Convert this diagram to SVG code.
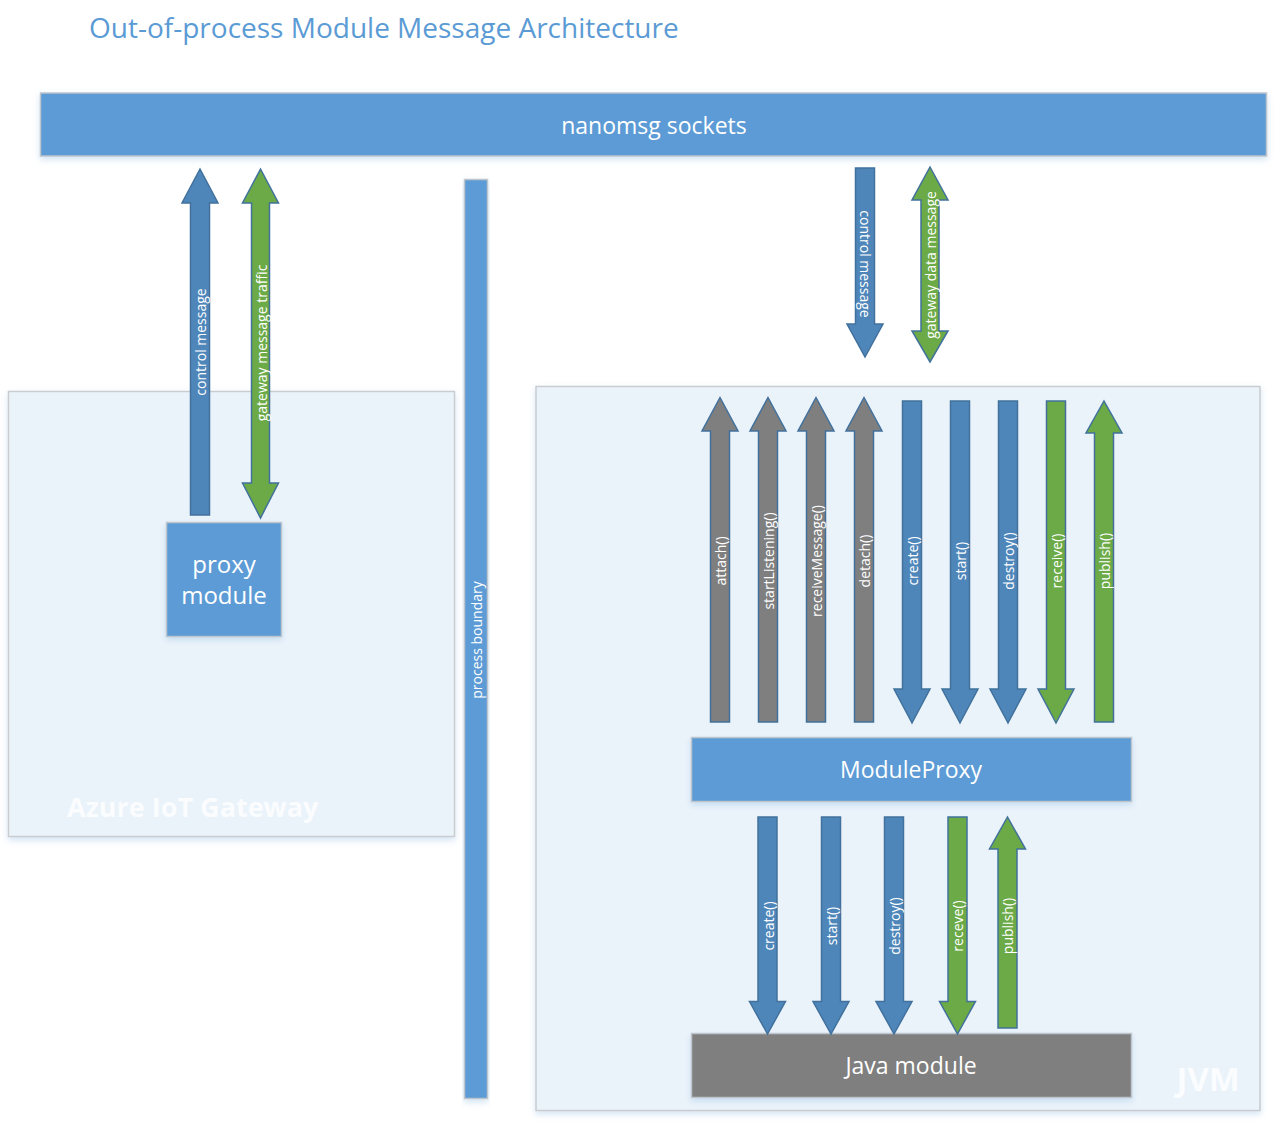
<svg xmlns="http://www.w3.org/2000/svg" width="1277" height="1126" viewBox="0 0 1277 1126">
<defs>
<filter id="sh" x="-10%" y="-10%" width="120%" height="130%">
<feDropShadow dx="0" dy="3" stdDeviation="3" flood-color="#9DC3E6" flood-opacity="0.45"/>
</filter>
<style>
text{font-family:"Open Sans","Liberation Sans",sans-serif;fill:#FFFFFF}
.title{fill:#5B9BD5;font-size:28px}
.cont{fill:#EBF3FA;stroke:#C9CDD1;stroke-width:1.5}
.bar{fill:#5B9BD5;stroke:#BFC5CC;stroke-width:1.5}
.gray{fill:#7F7F7F;stroke:#BFC5CC;stroke-width:1.5}
.big{font-size:23px;text-anchor:middle;dominant-baseline:central}
.pm{font-size:24px;text-anchor:middle}
.wm{font-size:27px;font-weight:bold;fill:#FAFCFE}
.ab{fill:#4E86BA;stroke:#41719C;stroke-width:1.5}
.ag{fill:#6BAA46;stroke:#41719C;stroke-width:1.5}
.ay{fill:#7F7F7F;stroke:#41719C;stroke-width:1.5}
.lb{font-size:14px;text-anchor:middle;dominant-baseline:central}
</style>
</defs>
<rect width="1277" height="1126" fill="#FFFFFF"/>
<text class="title" x="89" y="38">Out-of-process Module Message Architecture</text>

<g id="azure-iot-gateway">
<rect class="cont" x="8.5" y="391.5" width="446" height="445" filter="url(#sh)"/>
<text class="wm" x="67" y="817">Azure IoT Gateway</text>
</g>
<g id="jvm">
<rect class="cont" x="536" y="386.5" width="724" height="724" filter="url(#sh)"/>
<text class="wm" x="1240" y="1091" text-anchor="end" style="font-size:33px">JVM</text>
</g>
<g id="nanomsg-sockets">
<rect class="bar" x="40.5" y="93" width="1226" height="63" filter="url(#sh)"/>
<text class="big" x="654" y="125">nanomsg sockets</text>
</g>
<g id="process-boundary">
<rect class="bar" x="464.5" y="179.5" width="23" height="919" filter="url(#sh)"/>
<text class="lb" transform="translate(476,640) rotate(-90)">process boundary</text>
</g>
<g id="proxy-module">
<rect class="bar" x="166.5" y="522.5" width="115" height="114" filter="url(#sh)"/>
<text class="pm" x="224" y="573">proxy</text>
<text class="pm" x="224" y="604">module</text>
</g>
<g id="moduleproxy">
<rect class="bar" x="691.5" y="737.5" width="440" height="64" filter="url(#sh)"/>
<text class="big" x="911" y="769">ModuleProxy</text>
</g>
<g id="java-module">
<rect class="gray" x="691.5" y="1033.5" width="440" height="64" filter="url(#sh)"/>
<text class="big" x="911" y="1065">Java module</text>
</g>

<g id="connectors">
<path class="ab" d="M200,169 L218,203 L209.5,203 L209.5,515 L190.5,515 L190.5,203 L182,203 Z"/>
<text class="lb" transform="translate(200,342) rotate(-90)">control message</text>
<path class="ag" d="M260.5,169 L278.5,203 L269.5,203 L269.5,483 L278.5,483 L260.5,518 L242.5,483 L251.5,483 L251.5,203 L242.5,203 Z"/>
<text class="lb" transform="translate(261,343) rotate(-90)">gateway message traffic</text>
<path class="ab" d="M855.5,168 L874.5,168 L874.5,324 L883,324 L865,357 L847,324 L855.5,324 Z"/>
<text class="lb" transform="translate(865,264) rotate(90)">control message</text>
<path class="ag" d="M930,167 L948,200 L939,200 L939,331 L948,331 L930,362 L912,331 L921,331 L921,200 L912,200 Z"/>
<text class="lb" transform="translate(930,265) rotate(-90)">gateway data message</text>
<path class="ay" d="M720,397.5 L738,431 L729.5,431 L729.5,722 L710.5,722 L710.5,431 L702,431 Z"/>
<text class="lb" transform="translate(720,561) rotate(-90)">attach()</text>
<path class="ay" d="M768,397.5 L786,431 L777.5,431 L777.5,722 L758.5,722 L758.5,431 L750,431 Z"/>
<text class="lb" transform="translate(768,561) rotate(-90)">startListening()</text>
<path class="ay" d="M816,397.5 L834,431 L825.5,431 L825.5,722 L806.5,722 L806.5,431 L798,431 Z"/>
<text class="lb" transform="translate(816,561) rotate(-90)">receiveMessage()</text>
<path class="ay" d="M864,397.5 L882,431 L873.5,431 L873.5,722 L854.5,722 L854.5,431 L846,431 Z"/>
<text class="lb" transform="translate(864,561) rotate(-90)">detach()</text>
<path class="ab" d="M902.5,401 L921.5,401 L921.5,689 L930,689 L912,723 L894,689 L902.5,689 Z"/>
<text class="lb" transform="translate(912,561) rotate(-90)">create()</text>
<path class="ab" d="M950.5,401 L969.5,401 L969.5,689 L978,689 L960,723 L942,689 L950.5,689 Z"/>
<text class="lb" transform="translate(960,561) rotate(-90)">start()</text>
<path class="ab" d="M998.5,401 L1017.5,401 L1017.5,689 L1026,689 L1008,723 L990,689 L998.5,689 Z"/>
<text class="lb" transform="translate(1008,561) rotate(-90)">destroy()</text>
<path class="ag" d="M1046.5,401 L1065.5,401 L1065.5,689 L1074,689 L1056,723 L1038,689 L1046.5,689 Z"/>
<text class="lb" transform="translate(1056,561) rotate(-90)">receive()</text>
<path class="ag" d="M1104,401 L1122,433 L1113.5,433 L1113.5,722 L1094.5,722 L1094.5,433 L1086,433 Z"/>
<text class="lb" transform="translate(1104,561) rotate(-90)">publish()</text>
<path class="ab" d="M758,817 L777,817 L777,1001.5 L785.5,1001.5 L767.5,1034 L749.5,1001.5 L758,1001.5 Z"/>
<text class="lb" transform="translate(768,926) rotate(-90)">create()</text>
<path class="ab" d="M821.5,817 L840.5,817 L840.5,1001.5 L849,1001.5 L831,1034 L813,1001.5 L821.5,1001.5 Z"/>
<text class="lb" transform="translate(831,926) rotate(-90)">start()</text>
<path class="ab" d="M884.5,817 L903.5,817 L903.5,1001.5 L912,1001.5 L894,1034 L876,1001.5 L884.5,1001.5 Z"/>
<text class="lb" transform="translate(894,926) rotate(-90)">destroy()</text>
<path class="ag" d="M948,817 L967,817 L967,1001.5 L975.5,1001.5 L957.5,1034 L939.5,1001.5 L948,1001.5 Z"/>
<text class="lb" transform="translate(957.5,926) rotate(-90)">receve()</text>
<path class="ag" d="M1007.5,817 L1025.5,849 L1017,849 L1017,1028 L998,1028 L998,849 L989.5,849 Z"/>
<text class="lb" transform="translate(1007.5,926) rotate(-90)">publish()</text>
</g>
</svg>
